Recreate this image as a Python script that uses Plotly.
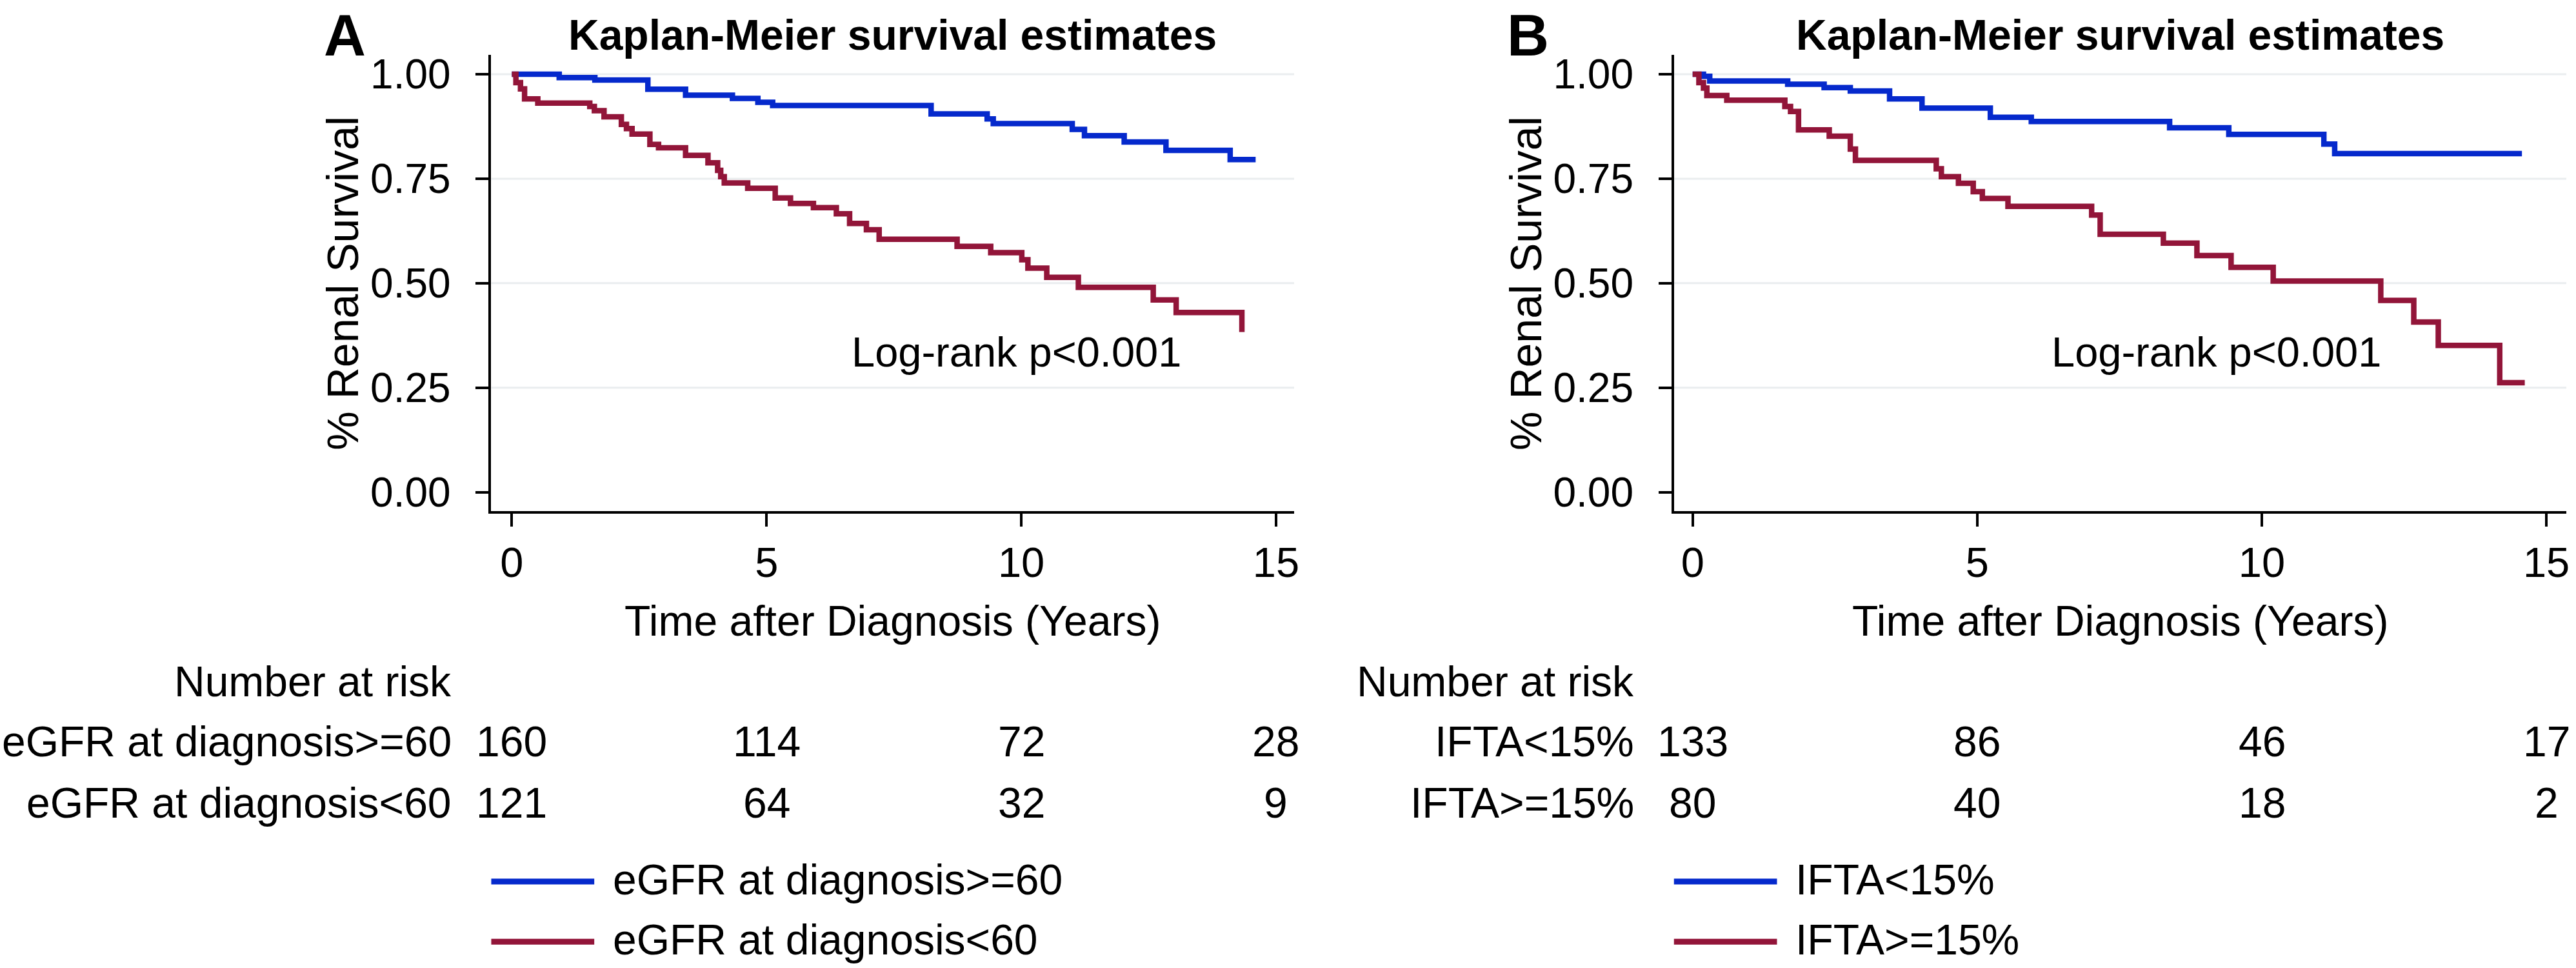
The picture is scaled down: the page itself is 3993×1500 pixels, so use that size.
import plotly.graph_objects as go

# ---------------- data ----------------
# Panel A: eGFR at diagnosis
a_hi_t = [0, 0.93, 1.63, 2.67, 3.41, 4.33, 4.83, 5.12, 8.23, 9.33, 9.45, 11.00, 11.24, 12.02, 12.84, 14.10, 14.60]
a_hi_s = [1.0, 0.992, 0.986, 0.964, 0.950, 0.942, 0.933, 0.925, 0.905, 0.893, 0.882, 0.868, 0.853, 0.838, 0.818, 0.796, 0.796]
a_lo_t = [0, 0.08, 0.17, 0.25, 0.51, 1.53, 1.62, 1.81, 2.15, 2.25, 2.36, 2.71, 2.88, 3.41, 3.85, 4.04, 4.10, 4.17,
          4.63, 5.17, 5.47, 5.92, 6.37, 6.63, 6.96, 7.21, 8.74, 9.40, 10.01, 10.13, 10.50, 11.12, 12.59, 13.04, 14.33]
a_lo_s = [1.0, 0.980, 0.965, 0.941, 0.931, 0.923, 0.913, 0.898, 0.880, 0.870, 0.857, 0.832, 0.824, 0.806, 0.788, 0.770, 0.755, 0.740,
          0.727, 0.704, 0.691, 0.681, 0.666, 0.643, 0.628, 0.605, 0.588, 0.573, 0.556, 0.536, 0.514, 0.490, 0.460, 0.430, 0.383]

# Panel B: IFTA
b_lo_t = [0, 0.19, 0.30, 1.67, 2.31, 2.77, 3.46, 4.03, 5.23, 5.95, 8.38, 9.42, 11.09, 11.28, 14.57]
b_lo_s = [1.0, 0.995, 0.984, 0.976, 0.968, 0.960, 0.941, 0.919, 0.897, 0.887, 0.872, 0.856, 0.833, 0.810, 0.810]
b_hi_t = [0, 0.11, 0.19, 0.25, 0.60, 1.62, 1.72, 1.86, 2.40, 2.77, 2.86, 4.28, 4.37, 4.67, 4.93, 5.09,
          5.54, 7.01, 7.16, 8.27, 8.86, 9.46, 10.20, 12.09, 12.67, 13.10, 14.18, 14.62]
b_hi_s = [1.0, 0.980, 0.967, 0.949, 0.938, 0.923, 0.911, 0.867, 0.852, 0.821, 0.794, 0.774, 0.755, 0.739, 0.719, 0.703,
          0.684, 0.663, 0.617, 0.596, 0.566, 0.538, 0.505, 0.459, 0.407, 0.351, 0.262, 0.262]

risk_times = [0, 5, 10, 15]
a_groups = ["eGFR at diagnosis&gt;=60", "eGFR at diagnosis&lt;60"]
a_risk = [[160, 114, 72, 28], [121, 64, 32, 9]]
b_groups = ["IFTA&lt;15%", "IFTA&gt;=15%"]
b_risk = [[133, 86, 46, 17], [80, 40, 18, 2]]

x_ticks = [0, 5, 10, 15]
y_ticks = [0, 0.25, 0.5, 0.75, 1.0]
y_ticktext = ["0.00", "0.25", "0.50", "0.75", "1.00"]
grid_vals = [0.25, 0.5, 0.75, 1.0]

title_text = "Kaplan-Meier survival estimates"
ytitle = "% Renal Survival"
xtitle = "Time after Diagnosis (Years)"
pval_text = "Log-rank p&lt;0.001"

# ---------------- style ----------------
W, H = 3993, 1500
BLUE = "#0529CC"
RED = "#921539"
GRID = "#EAEDEF"
FONT = "Liberation Sans, Arial, Helvetica, sans-serif"
LW = 8.5


def px_x(p):
    return p / W


def px_y(p):
    return 1 - p / H


fig = go.Figure()
fig.add_trace(go.Scatter(x=a_hi_t, y=a_hi_s, mode="lines", line=dict(color=BLUE, width=LW, shape="hv"),
                         xaxis="x", yaxis="y", showlegend=False, hoverinfo="skip"))
fig.add_trace(go.Scatter(x=a_lo_t, y=a_lo_s, mode="lines", line=dict(color=RED, width=LW, shape="hv"),
                         xaxis="x", yaxis="y", showlegend=False, hoverinfo="skip"))
fig.add_trace(go.Scatter(x=b_lo_t, y=b_lo_s, mode="lines", line=dict(color=BLUE, width=LW, shape="hv"),
                         xaxis="x2", yaxis="y2", showlegend=False, hoverinfo="skip"))
fig.add_trace(go.Scatter(x=b_hi_t, y=b_hi_s, mode="lines", line=dict(color=RED, width=LW, shape="hv"),
                         xaxis="x2", yaxis="y2", showlegend=False, hoverinfo="skip"))

ydom = [px_y(793), px_y(80)]
yrng = [-0.0455, 1.0459]

common_x = dict(tickvals=x_ticks, ticks="outside", ticklen=20, tickwidth=4, tickcolor="black",
                showline=True, linewidth=4, linecolor="black", showgrid=False, zeroline=False,
                tickfont=dict(size=65, color="black", family=FONT), ticklabelstandoff=0)
common_y = dict(tickvals=y_ticks, ticktext=y_ticktext, ticks="outside", ticklen=20, tickwidth=4, tickcolor="black",
                showline=True, linewidth=4, linecolor="black", showgrid=False, zeroline=False,
                tickfont=dict(size=64, color="black", family=FONT), ticklabelstandoff=26,
                domain=ydom, range=yrng)

fig.update_layout(
    width=W, height=H, margin=dict(l=0, r=0, t=0, b=0),
    paper_bgcolor="white", plot_bgcolor="white",
    font=dict(family=FONT, color="black", size=66),
    xaxis=dict(domain=[px_x(763), px_x(2010)], range=[-0.404, 15.355], anchor="y", **common_x),
    yaxis=dict(anchor="x", **common_y),
    xaxis2=dict(domain=[px_x(2600), px_x(3986)], range=[-0.328, 15.35], anchor="y2", **common_x),
    yaxis2=dict(anchor="x2", **common_y),
)

shapes = []
annotations = []
panels = [
    dict(x="x", y="y", letter="A", letter_x=536, ytitle_x=532, label_right=703, leg_x0=763,
         groups=a_groups, risk=a_risk, pval_x=9.9),
    dict(x="x2", y="y2", letter="B", letter_x=2373, ytitle_x=2369, label_right=2540, leg_x0=2600,
         groups=b_groups, risk=b_risk, pval_x=9.2),
]
row_y = [1153, 1248.5]
leg_line_y = [1372, 1466]
leg_text_y = [1369, 1463]
colors = [BLUE, RED]

for p in panels:
    xr, yr = p["x"], p["y"]
    for g in grid_vals:
        shapes.append(dict(type="line", xref=f"{xr} domain", yref=yr, x0=0, x1=1, y0=g, y1=g,
                           line=dict(color=GRID, width=3), layer="below"))
    # panel letter
    annotations.append(dict(text=f"<b>{p['letter']}</b>", xref="paper", yref="paper",
                            x=px_x(p["letter_x"]), y=px_y(49.5), xanchor="center", yanchor="middle",
                            showarrow=False, font=dict(size=90)))
    # title
    annotations.append(dict(text=f"<b>{title_text}</b>", xref=f"{xr} domain", yref="paper",
                            x=0.5, y=px_y(48.5), xanchor="center", yanchor="middle",
                            showarrow=False, font=dict(size=66)))
    # y title
    annotations.append(dict(text=ytitle, xref="paper", yref=f"{yr} domain", x=px_x(p["ytitle_x"]), y=0.5,
                            xanchor="center", yanchor="middle", textangle=-90, showarrow=False,
                            font=dict(size=68)))
    # x title
    annotations.append(dict(text=xtitle, xref=f"{xr} domain", yref="paper", x=0.5, y=px_y(964),
                            xanchor="center", yanchor="middle", showarrow=False, font=dict(size=66)))
    # p-value
    annotations.append(dict(text=pval_text, xref=xr, yref=yr, x=p["pval_x"], y=0.336,
                            xanchor="center", yanchor="middle", showarrow=False, font=dict(size=65)))
    # number at risk
    annotations.append(dict(text="Number at risk", xref="paper", yref="paper", x=px_x(p["label_right"]),
                            y=px_y(1059), xanchor="right", yanchor="middle", showarrow=False,
                            font=dict(size=66)))
    for i, (gname, vals) in enumerate(zip(p["groups"], p["risk"])):
        annotations.append(dict(text=gname, xref="paper", yref="paper", x=px_x(p["label_right"]),
                                y=px_y(row_y[i]), xanchor="right", yanchor="middle", showarrow=False,
                                font=dict(size=66)))
        for t, v in zip(risk_times, vals):
            annotations.append(dict(text=str(v), xref=xr, yref="paper", x=t, y=px_y(row_y[i]),
                                    xanchor="center", yanchor="middle", showarrow=False,
                                    font=dict(size=66)))
        # legend
        shapes.append(dict(type="line", xref="paper", yref="paper", x0=px_x(p["leg_x0"]),
                           x1=px_x(p["leg_x0"] + 160), y0=px_y(leg_line_y[i]), y1=px_y(leg_line_y[i]),
                           line=dict(color=colors[i], width=9)))
        annotations.append(dict(text=gname, xref="paper", yref="paper", x=px_x(p["leg_x0"] + 187),
                                y=px_y(leg_text_y[i]), xanchor="left", yanchor="middle", showarrow=False,
                                font=dict(size=66)))

fig.update_layout(shapes=shapes, annotations=annotations)

fig.write_html("out.html", config={"displayModeBar": False},
               post_script="document.body.style.margin='0';document.body.style.overflow='hidden';")
